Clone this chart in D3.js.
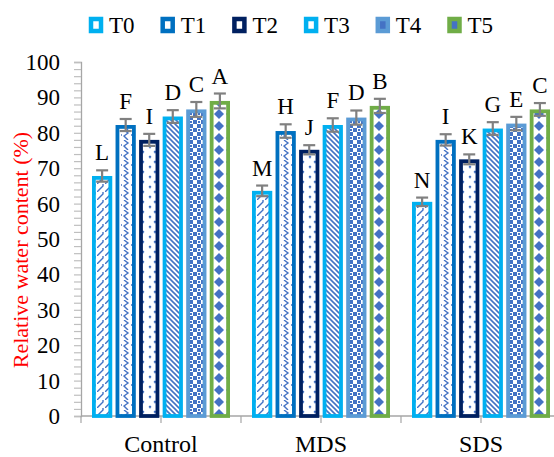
<!DOCTYPE html>
<html>
<head>
<meta charset="utf-8">
<script src="https://cdn.jsdelivr.net/npm/d3@7"></script>
<style>
  body { margin: 0; background: #fff; }
  svg text { font-family: "Liberation Serif", "Times New Roman", Times, serif; }
</style>
</head>
<body>
<script>
// data
const groups = ["Control", "MDS", "SDS"];
const treatments = ["T0", "T1", "T2", "T3", "T4", "T5"];
const controlVals = [67.8, 82.2, 78.0, 84.6, 86.6, 89.0];
const mdsVals = [63.6, 80.5, 75.2, 82.2, 84.3, 87.6];
const sdsVals = [60.5, 78.0, 72.5, 81.2, 82.6, 86.6];
const controlErr = [1.6, 1.7, 1.7, 1.8, 2.1, 2.1];
const mdsErr = [1.5, 1.9, 1.3, 1.9, 2.0, 2.0];
const sdsErr = [1.2, 1.6, 1.4, 1.8, 1.9, 1.8];
const controlLetters = ["L", "F", "I", "D", "C", "A"];
const mdsLetters = ["M", "H", "J", "F", "D", "B"];
const sdsLetters = ["N", "I", "K", "G", "E", "C"];
const yTicks = [0, 10, 20, 30, 40, 50, 60, 70, 80, 90, 100];

const colors = ["#00B0F0", "#0070C0", "#002060", "#00B0F0", "#5B9BD5", "#70AD47"];
const patColor = "#4472C4";

const W = 554, H = 457;
const svg = d3.select("body").append("svg")
  .attr("width", W)
  .attr("height", H)
  .attr("font-family", "Liberation Serif, Times New Roman, serif");

// patterns for the bar fills
const defs = svg.append("defs");
function pattern(id, w, h, draw) {
  const p = defs.append("pattern")
    .attr("id", id)
    .attr("patternUnits", "userSpaceOnUse")
    .attr("width", w)
    .attr("height", h);
  p.append("rect").attr("width", w).attr("height", h).attr("fill", "#fff");
  draw(p);
}
// T0: stepped diagonal
pattern("p0", 8, 8, p => {
  p.append("path").attr("d", "M0,8 L6,2 L6,0").attr("stroke", patColor).attr("stroke-width", 1.4).attr("fill", "none");
});
// T1: waves
pattern("p1", 10, 10, p => {
  p.append("path").attr("d", "M3,0 L7,3 L3,6 L7,10 M0,5 L1,5").attr("stroke", patColor).attr("stroke-width", 1.4).attr("fill", "none");
});
// T2: sparse crosses
pattern("p2", 12, 10, p => {
  p.append("path").attr("d", "M1,1 L3,3 M3,1 L1,3 M8,6 L10,8 M10,6 L8,8").attr("stroke", patColor).attr("stroke-width", 1.1);
});
// T3: wide downward diagonal
pattern("p3", 5, 5, p => {
  p.append("path").attr("d", "M-1,-1 L6,6 M-1,4 L1,6 M4,-1 L6,1").attr("stroke", patColor).attr("stroke-width", 1.6);
});
// T4: checker blocks
pattern("p4", 8, 8, p => {
  p.append("rect").attr("x", 0).attr("y", 0).attr("width", 4).attr("height", 4).attr("fill", patColor);
  p.append("rect").attr("x", 4).attr("y", 4).attr("width", 4).attr("height", 4).attr("fill", patColor);
  p.append("rect").attr("x", 5).attr("y", 1).attr("width", 2).attr("height", 2).attr("fill", patColor);
});
// T5: diamonds
pattern("p5", 12, 12, p => {
  p.append("path").attr("d", "M6,1 L11,6 L6,11 L1,6 Z").attr("fill", patColor);
});

const x0 = d3.scaleBand()
  .domain(groups)
  .range([81, 561]);

const x1 = d3.scaleBand()
  .domain(treatments)
  .range([11, 149])
  .paddingInner(0.14);

const y = d3.scaleLinear()
  .domain([0, 100])
  .range([416, 62]);

// y axis: minor ticks every 2, labels every 10
const yAxis = svg.append("g")
  .attr("transform", "translate(81,0)")
  .call(d3.axisLeft(y).tickValues(d3.range(0, 101, 2)).tickSize(7).tickFormat(""));
yAxis.select(".domain").attr("stroke", "#a6a6a6").attr("stroke-width", 1.3);
yAxis.selectAll(".tick line").attr("stroke", "#bfbfbf").attr("stroke-width", 1.2);

svg.append("g").selectAll("text")
  .data(yTicks)
  .join("text")
  .attr("x", 60)
  .attr("y", d => y(d) + 8)
  .attr("text-anchor", "end")
  .attr("font-size", 23)
  .attr("fill", "#000")
  .text(d => d);

// x axis with ticks at group edges and centres
const xAxisG = svg.append("g");
xAxisG.append("line")
  .attr("x1", 81).attr("x2", W)
  .attr("y1", y(0)).attr("y2", y(0))
  .attr("stroke", "#a6a6a6").attr("stroke-width", 1.3);
xAxisG.selectAll("line.tk")
  .data(d3.range(0, 7))
  .join("line")
  .attr("class", "tk")
  .attr("x1", i => 81 + i * x0.bandwidth() / 2)
  .attr("x2", i => 81 + i * x0.bandwidth() / 2)
  .attr("y1", y(0)).attr("y2", y(0) + 7)
  .attr("stroke", "#a6a6a6").attr("stroke-width", 1.2);
xAxisG.selectAll("text")
  .data(groups)
  .join("text")
  .attr("x", d => x0(d) + x0.bandwidth() / 2)
  .attr("y", 452)
  .attr("text-anchor", "middle")
  .attr("font-size", 24)
  .text(d => d);

// bars
const rows = [
  { g: "Control", vals: controlVals, err: controlErr, letters: controlLetters },
  { g: "MDS", vals: mdsVals, err: mdsErr, letters: mdsLetters },
  { g: "SDS", vals: sdsVals, err: sdsErr, letters: sdsLetters }
];
const sw = 3.8;

rows.forEach(r => {
  const g = svg.append("g").attr("transform", `translate(${x0(r.g)},0)`);
  const data = treatments.map((t, i) => ({ t, i, v: r.vals[i], e: r.err[i], l: r.letters[i] }));

  g.selectAll("rect.bar")
    .data(data)
    .join("rect")
    .attr("class", "bar")
    .attr("x", d => x1(d.t) + sw / 2)
    .attr("y", d => y(d.v) + sw / 2)
    .attr("width", x1.bandwidth() - sw)
    .attr("height", d => y(0) - y(d.v) - sw / 2)
    .attr("fill", d => `url(#p${d.i})`)
    .attr("stroke", d => colors[d.i])
    .attr("stroke-width", sw);

  // error bars
  const eb = g.selectAll("g.err")
    .data(data)
    .join("g")
    .attr("class", "err")
    .attr("stroke", "#808080")
    .attr("stroke-width", 2.2);
  eb.append("line")
    .attr("x1", d => x1(d.t) + x1.bandwidth() / 2)
    .attr("x2", d => x1(d.t) + x1.bandwidth() / 2)
    .attr("y1", d => y(d.v + d.e))
    .attr("y2", d => y(d.v - d.e));
  eb.append("line")
    .attr("x1", d => x1(d.t) + x1.bandwidth() / 2 - 6)
    .attr("x2", d => x1(d.t) + x1.bandwidth() / 2 + 6)
    .attr("y1", d => y(d.v + d.e))
    .attr("y2", d => y(d.v + d.e));
  eb.append("line")
    .attr("x1", d => x1(d.t) + x1.bandwidth() / 2 - 6)
    .attr("x2", d => x1(d.t) + x1.bandwidth() / 2 + 6)
    .attr("y1", d => y(d.v - d.e))
    .attr("y2", d => y(d.v - d.e));

  // significance letters
  g.selectAll("text")
    .data(data)
    .join("text")
    .attr("x", d => x1(d.t) + x1.bandwidth() / 2)
    .attr("y", d => y(d.v + d.e) - 10)
    .attr("text-anchor", "middle")
    .attr("font-size", 23)
    .text(d => d.l);
});

// y label
svg.append("text")
  .attr("transform", "translate(28,250) rotate(-90)")
  .attr("text-anchor", "middle")
  .attr("font-size", 22)
  .attr("fill", "#FF0000")
  .text("Relative water content (%)");

// legend
const legend = svg.append("g").selectAll("g")
  .data(treatments)
  .join("g")
  .attr("transform", (d, i) => `translate(${89 + i * 71.7},17)`);
legend.append("rect")
  .attr("x", 2).attr("y", 2)
  .attr("width", 10).attr("height", 12)
  .attr("fill", (d, i) => i >= 4 ? patColor : "#fff")
  .attr("stroke", (d, i) => colors[i])
  .attr("stroke-width", 4.5);
legend.append("text")
  .attr("x", 20)
  .attr("y", 16)
  .attr("font-size", 23)
  .text(d => d);
</script>
</body>
</html>
